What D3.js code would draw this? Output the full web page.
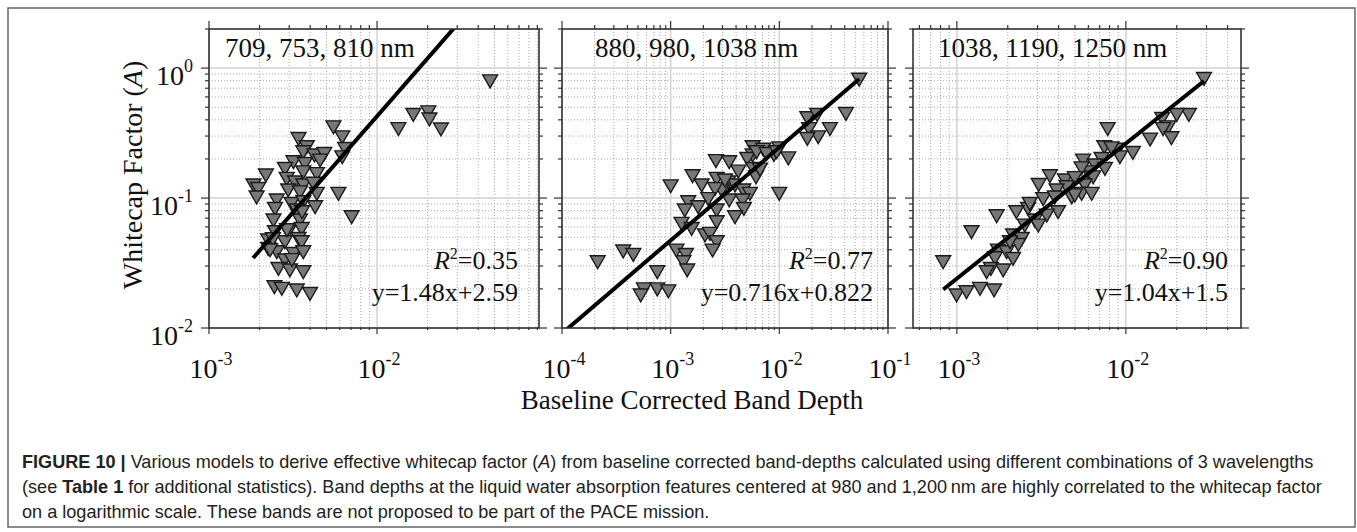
<!DOCTYPE html>
<html>
<head>
<meta charset="utf-8">
<script src="https://cdn.jsdelivr.net/npm/d3@7"></script>
<style>
  body { margin: 0; background: #fff; }
  text { font-family: "Liberation Serif", "Times New Roman", serif; fill: #111; }
  .cap { font-family: "Liberation Sans", Arial, sans-serif; fill: #222; }
</style>
</head>
<body>
<div id="fig"></div>
<script>
// ---- data ----
var panelTitles = ["709, 753, 810 nm", "880, 980, 1038 nm", "1038, 1190, 1250 nm"];
var r2Labels = ["0.35", "0.77", "0.90"];
var fitLabels = ["y=1.48x+2.59", "y=0.716x+0.822", "y=1.04x+1.5"];
var fitSlopes = [1.48, 0.716, 1.04];
var fitIntercepts = [2.59, 0.822, 1.5];
var fitRanges = [[0.00183, 0.0471], [0.0001, 0.0543], [0.00083, 0.029]];
var xDomains = [[0.001, 0.092], [0.0001, 0.1], [0.00055, 0.048]];
var yDomain = [0.01, 2];
var xTickValues = [[1e-3, 1e-2], [1e-4, 1e-3, 1e-2, 1e-1], [1e-3, 1e-2]];
var yTickValues = [1, 0.1, 0.01];

var points709 = [
  [0.00550, 0.364], [0.00621, 0.305], [0.00646, 0.248], [0.00621, 0.214], [0.00341, 0.296],
  [0.00382, 0.256], [0.00364, 0.234], [0.00424, 0.221], [0.00485, 0.227], [0.00458, 0.202],
  [0.00318, 0.196], [0.00372, 0.190], [0.00283, 0.174], [0.00364, 0.164], [0.00438, 0.159],
  [0.00218, 0.155], [0.00184, 0.130], [0.00196, 0.122], [0.00192, 0.105], [0.00290, 0.146],
  [0.00325, 0.137], [0.00364, 0.130], [0.00418, 0.134], [0.00296, 0.119], [0.00348, 0.115],
  [0.00438, 0.112], [0.00589, 0.112], [0.00253, 0.0996], [0.00310, 0.0937], [0.00364, 0.0966],
  [0.00428, 0.0883], [0.00247, 0.0857], [0.00333, 0.0834], [0.00706, 0.0740], [0.00242, 0.0698],
  [0.00348, 0.0698], [0.00356, 0.0601], [0.00296, 0.0568], [0.00247, 0.0568], [0.00341, 0.0504],
  [0.00225, 0.0490], [0.00283, 0.0475], [0.00356, 0.0475], [0.00253, 0.0398], [0.00318, 0.0386],
  [0.00364, 0.0398], [0.00283, 0.0344], [0.00259, 0.0296], [0.00303, 0.0288], [0.00364, 0.0279],
  [0.00245, 0.0214], [0.00271, 0.0208], [0.00333, 0.0202], [0.00399, 0.0190], [0.00225, 0.0422],
  [0.0134, 0.353], [0.01644, 0.453], [0.0202, 0.475], [0.0205, 0.418], [0.0240, 0.350],
  [0.0471, 0.822], [0.00240, 0.0501], [0.00358, 0.0809], [0.00312, 0.0346], [0.00231, 0.0412],
  [0.00291, 0.0587]
];
var points880 = [
  [0.0543, 0.847], [0.0410, 0.461], [0.0181, 0.428], [0.0223, 0.453], [0.0292, 0.353],
  [0.0188, 0.353], [0.0228, 0.305], [0.0181, 0.296], [0.00568, 0.256], [0.00711, 0.245],
  [0.00998, 0.251], [0.01208, 0.210], [0.00891, 0.223], [0.00568, 0.221], [0.00507, 0.208],
  [0.00261, 0.200], [0.00346, 0.196], [0.00419, 0.166], [0.00575, 0.174], [0.00610, 0.150],
  [0.00664, 0.172], [0.00159, 0.153], [0.00265, 0.146], [0.00193, 0.130], [0.00100, 0.128],
  [0.00339, 0.137], [0.00391, 0.130], [0.00466, 0.119], [0.00294, 0.119], [0.00256, 0.122],
  [0.00998, 0.112], [0.00536, 0.112], [0.00222, 0.102], [0.00346, 0.0996], [0.00459, 0.0996],
  [0.00145, 0.0966], [0.00179, 0.0883], [0.00135, 0.0834], [0.00265, 0.0834], [0.00472, 0.0857],
  [0.00391, 0.0740], [0.00126, 0.0658], [0.00156, 0.0601], [0.00265, 0.0678], [0.00207, 0.0535],
  [0.00230, 0.0551], [0.00265, 0.0475], [0.00243, 0.0410], [0.000366, 0.0403], [0.000453, 0.0379],
  [0.000213, 0.0333], [0.00113, 0.0410], [0.00138, 0.0379], [0.00131, 0.0333], [0.00142, 0.0288],
  [0.000753, 0.0279], [0.000567, 0.0206], [0.000753, 0.0206], [0.000951, 0.0199], [0.000530, 0.0185],
  [0.00618, 0.234], [0.00764, 0.227], [0.00944, 0.234], [0.00316, 0.142]
];
var points1038 = [
  [0.0290, 0.857], [0.0236, 0.453], [0.0200, 0.453], [0.0164, 0.422], [0.0178, 0.364],
  [0.0166, 0.353], [0.0186, 0.300], [0.0139, 0.293], [0.00780, 0.353], [0.0110, 0.231],
  [0.00899, 0.245], [0.00745, 0.256], [0.00822, 0.251], [0.00922, 0.214], [0.00718, 0.208],
  [0.00558, 0.202], [0.00656, 0.185], [0.00752, 0.174], [0.00598, 0.164], [0.00547, 0.176],
  [0.00355, 0.153], [0.00305, 0.131], [0.00436, 0.142], [0.00499, 0.148], [0.00640, 0.150],
  [0.00571, 0.130], [0.00446, 0.126], [0.00389, 0.119], [0.00547, 0.112], [0.00627, 0.112],
  [0.00478, 0.105], [0.00324, 0.102], [0.00264, 0.0857], [0.00225, 0.0809], [0.00397, 0.0809],
  [0.00340, 0.0762], [0.00172, 0.0753], [0.00289, 0.0698], [0.00252, 0.0638], [0.00303, 0.0638],
  [0.00122, 0.0568], [0.00215, 0.0535], [0.00242, 0.0504], [0.00231, 0.0453], [0.00175, 0.0410],
  [0.00197, 0.0398], [0.00215, 0.0353], [0.000830, 0.0333], [0.00168, 0.0358], [0.00159, 0.0296],
  [0.00188, 0.0288], [0.00150, 0.0279], [0.000996, 0.0185], [0.00114, 0.0196], [0.00137, 0.0208],
  [0.00166, 0.0202], [0.00270, 0.0937], [0.00499, 0.109], [0.00380, 0.105], [0.00206, 0.0475]
];
var panelPoints = [points709, points880, points1038];

makeFigure();

function makeFigure() {
    var w = 1357, h = 532;
    var lefts = [209, 562, 913], rights = [539, 888, 1241];
    var plotTop = 29, plotBottom = 328;
    var titleX = [225, 595, 938];
    var statX = [518, 873, 1228];

    var svg = d3.select("#fig").append("svg")
        .attr("width", w)
        .attr("height", h);

    svg.append("rect")
        .attr("x", 8).attr("y", 8)
        .attr("width", 1347).attr("height", 519)
        .style("fill", "none")
        .style("stroke", "#666")
        .style("stroke-width", 1.5);

    var yScale = d3.scaleLog().domain(yDomain).range([plotBottom, plotTop]);

    function logTicks(domain) {
        var major = [], minor = [];
        var d0 = Math.floor(Math.log10(domain[0])), d1 = Math.ceil(Math.log10(domain[1]));
        for (var d = d0; d <= d1; d++) {
            for (var k = 1; k <= 9; k++) {
                var v = +(k * Math.pow(10, d)).toPrecision(6);
                if (v < domain[0] * 0.999 || v > domain[1] * 1.001) continue;
                if (k == 1) major.push(v); else minor.push(v);
            }
        }
        return {major: major, minor: minor};
    }

    function supLabel(sel, exp) {
        sel.append("tspan").text("10");
        sel.append("tspan")
            .attr("dy", -13)
            .style("font-size", "18px")
            .text(exp);
    }

    var yt = logTicks(yDomain);
    var tri = d3.symbol().type(d3.symbolTriangle).size(96);

    panelPoints.forEach(function(pts, i) {
        var xScale = d3.scaleLog().domain(xDomains[i]).range([lefts[i], rights[i]]);
        var xt = logTicks(xDomains[i]);
        var g = svg.append("g");

        g.append("clipPath").attr("id", "clip" + i)
          .append("rect")
            .attr("x", lefts[i]).attr("y", plotTop)
            .attr("width", rights[i] - lefts[i]).attr("height", plotBottom - plotTop);

        // grid
        g.selectAll(".gxm").data(xt.minor).enter().append("line")
            .attr("x1", xScale).attr("x2", xScale)
            .attr("y1", plotTop).attr("y2", plotBottom)
            .style("stroke", "#a8a8a8").style("stroke-width", 1)
            .style("stroke-dasharray", "1,2");
        g.selectAll(".gym").data(yt.minor).enter().append("line")
            .attr("y1", yScale).attr("y2", yScale)
            .attr("x1", lefts[i]).attr("x2", rights[i])
            .style("stroke", "#a8a8a8").style("stroke-width", 1)
            .style("stroke-dasharray", "1,2");
        g.selectAll(".gxM").data(xt.major).enter().append("line")
            .attr("x1", xScale).attr("x2", xScale)
            .attr("y1", plotTop).attr("y2", plotBottom)
            .style("stroke", "#d2d2d2").style("stroke-width", 1.5);
        g.selectAll(".gyM").data(yt.major).enter().append("line")
            .attr("y1", yScale).attr("y2", yScale)
            .attr("x1", lefts[i]).attr("x2", rights[i])
            .style("stroke", "#d2d2d2").style("stroke-width", 1.5);

        // points
        g.selectAll("path.pt").data(pts).enter().append("path")
            .attr("class", "pt")
            .attr("d", tri)
            .attr("transform", function(d) {
                return "translate(" + xScale(d[0]) + "," + yScale(d[1]) + ") rotate(180)";
            })
            .style("fill", "#777")
            .style("stroke", "#1a1a1a")
            .style("stroke-width", 1.4);

        // fit line
        var fit = fitRanges[i].map(function(x) {
            return [x, Math.pow(10, fitSlopes[i] * Math.log10(x) + fitIntercepts[i])];
        });
        g.append("path")
            .datum(fit)
            .attr("clip-path", "url(#clip" + i + ")")
            .attr("d", d3.line().x(function(d) { return xScale(d[0]); }).y(function(d) { return yScale(d[1]); }))
            .style("fill", "none")
            .style("stroke", "#000")
            .style("stroke-width", 4);

        // box + outward ticks on all sides
        g.append("rect")
            .attr("x", lefts[i]).attr("y", plotTop)
            .attr("width", rights[i] - lefts[i]).attr("height", plotBottom - plotTop)
            .style("fill", "none").style("stroke", "#333").style("stroke-width", 1.6);

        var xAll = xt.major.map(function(v) { return [v, 8]; }).concat(xt.minor.map(function(v) { return [v, 4]; }));
        var yAll = yt.major.map(function(v) { return [v, 8]; }).concat(yt.minor.map(function(v) { return [v, 4]; }));
        xAll.forEach(function(t) {
            var x = xScale(t[0]);
            g.append("line").attr("x1", x).attr("x2", x).attr("y1", plotBottom).attr("y2", plotBottom + t[1] - 2)
                .style("stroke", "#333").style("stroke-width", 1.2);
            g.append("line").attr("x1", x).attr("x2", x).attr("y1", plotTop).attr("y2", plotTop - t[1])
                .style("stroke", "#333").style("stroke-width", 1.2);
        });
        yAll.forEach(function(t) {
            var y = yScale(t[0]);
            g.append("line").attr("y1", y).attr("y2", y).attr("x1", lefts[i]).attr("x2", lefts[i] - t[1])
                .style("stroke", "#333").style("stroke-width", 1.2);
            g.append("line").attr("y1", y).attr("y2", y).attr("x1", rights[i]).attr("x2", rights[i] + t[1])
                .style("stroke", "#333").style("stroke-width", 1.2);
        });

        // x tick labels
        xTickValues[i].forEach(function(v) {
            var t = g.append("text")
                .attr("x", xScale(v) + 2).attr("y", 378)
                .attr("text-anchor", "middle")
                .style("font-size", "28px");
            supLabel(t, String(Math.round(Math.log10(v))));
        });

        // annotations
        g.append("text")
            .attr("x", titleX[i]).attr("y", 57)
            .style("font-size", "27px")
            .text(panelTitles[i]);

        var r2 = g.append("text")
            .attr("x", statX[i]).attr("y", 269)
            .attr("text-anchor", "end")
            .style("font-size", "26px");
        r2.append("tspan").style("font-style", "italic").text("R");
        r2.append("tspan").attr("dy", -10).style("font-size", "16px").text("2");
        r2.append("tspan").attr("dy", 10).text("=" + r2Labels[i]);

        g.append("text")
            .attr("x", statX[i]).attr("y", 301)
            .attr("text-anchor", "end")
            .style("font-size", "26px")
            .text(fitLabels[i]);
    });

    // y tick labels (first panel only)
    yTickValues.forEach(function(v) {
        var t = svg.append("text")
            .attr("x", 193).attr("y", yScale(v) + 17)
            .attr("text-anchor", "end")
            .style("font-size", "28px");
        supLabel(t, String(Math.round(Math.log10(v))));
    });

    // axis titles
    var yl = svg.append("text")
        .attr("transform", "translate(142,175) rotate(-90)")
        .attr("text-anchor", "middle")
        .style("font-size", "28px");
    yl.append("tspan").text("Whitecap Factor (");
    yl.append("tspan").style("font-style", "italic").text("A");
    yl.append("tspan").text(")");

    svg.append("text")
        .attr("x", 692).attr("y", 409)
        .attr("text-anchor", "middle")
        .style("font-size", "27px")
        .text("Baseline Corrected Band Depth");

    // caption
    var capLines = [
        [["b", "FIGURE 10 | "], ["n", "Various models to derive effective whitecap factor ("], ["i", "A"], ["n", ") from baseline corrected band-depths calculated using different combinations of 3 wavelengths"]],
        [["n", "(see "], ["b", "Table 1"], ["n", " for additional statistics). Band depths at the liquid water absorption features centered at 980 and 1,200\u2009nm are highly correlated to the whitecap factor"]],
        [["n", "on a logarithmic scale. These bands are not proposed to be part of the PACE mission."]]
    ];
    var capBase = [468, 493, 518];
    var capNodes = capLines.map(function(parts, j) {
        var t = svg.append("text")
            .attr("class", "cap")
            .attr("x", 22).attr("y", capBase[j])
            .style("font-size", "16px");
        parts.forEach(function(p) {
            var s = t.append("tspan").attr("class", "cap").text(p[1]);
            if (p[0] == "b") s.style("font-weight", "bold");
            if (p[0] == "i") s.style("font-style", "italic");
        });
        return t;
    });
    // size the caption font so the first line spans the measured width
    var len = capNodes[0].node().getComputedTextLength();
    var fs = 16 * 1292 / len;
    capNodes.forEach(function(t) { t.style("font-size", fs + "px"); });
}
</script>
</body>
</html>
